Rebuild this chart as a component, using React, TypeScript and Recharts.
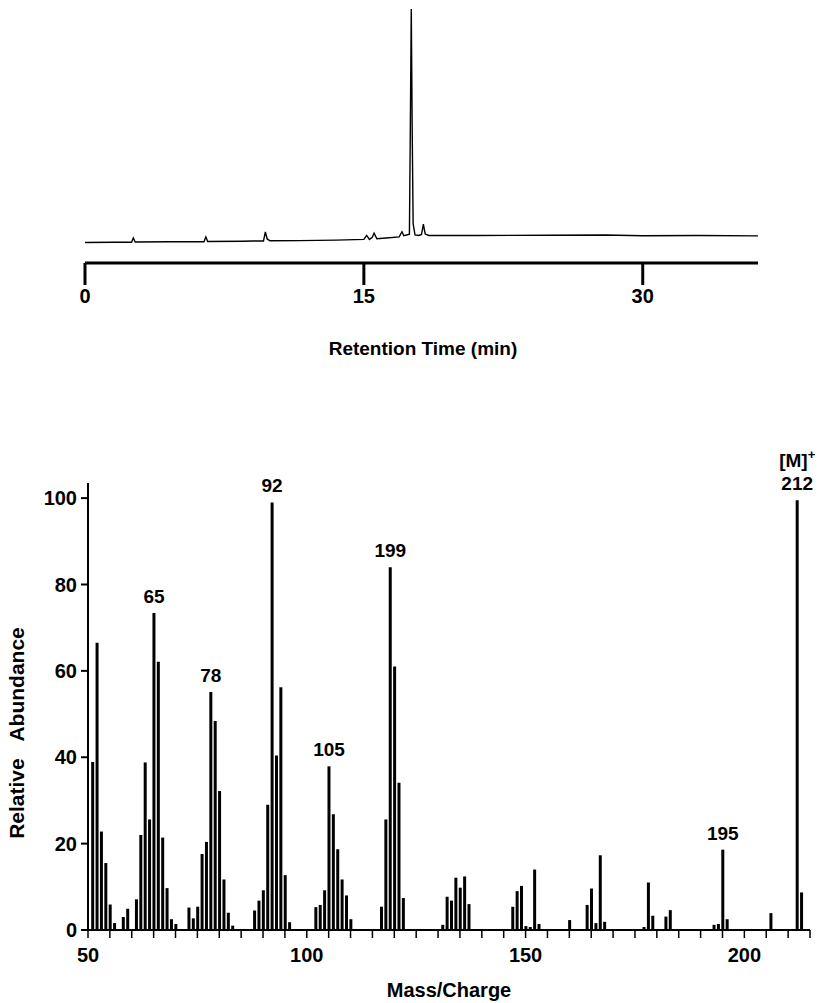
import { LineChart, Line, XAxis, YAxis, BarChart, Bar, LabelList, Label } from 'recharts';

// GC trace (retention time in min, detector response scaled so the main peak = 100)
const retentionTimes = [
  0, 1.5, 2.5, 2.6, 2.7, 4.5, 6.4, 6.5, 6.6, 8.5, 9.0, 9.6, 9.7, 9.8, 9.95, 11.5, 13.5,
  15.0, 15.15, 15.3, 15.45, 15.55, 15.7, 16.2, 16.9, 17.05, 17.15, 17.3, 17.45, 17.5,
  17.55, 17.6, 17.65, 17.75, 17.95, 18.1, 18.2, 18.3, 18.5, 21, 25, 28, 30, 33, 36.2,
];
const detectorSignal = [
  0, 0.1, 0.1, 1.9, 0.2, 0.3, 0.3, 2.4, 0.4, 0.5, 0.6, 0.6, 4.5, 1.5, 0.7, 0.8, 1.0,
  1.3, 3.0, 1.3, 2.2, 4.0, 1.6, 1.9, 2.4, 4.6, 2.9, 3.2, 3.5, 50,
  100, 48, 8, 3.2, 3.0, 3.4, 7.8, 3.6, 3.0, 3.0, 3.1, 3.2, 2.9, 3.0, 2.8,
];
const timeTicks = [0, 15, 30];

// EI mass spectrum
const massCharge = [
  51, 52, 53, 54, 55, 56, 58, 59, 61, 62, 63, 64, 65, 66, 67, 68, 69, 70,
  73, 74, 75, 76, 77, 78, 79, 80, 81, 82, 83,
  88, 89, 90, 91, 92, 93, 94, 95, 96,
  102, 103, 104, 105, 106, 107, 108, 109, 110,
  117, 118, 119, 120, 121, 122,
  131, 132, 133, 134, 135, 136, 137,
  147, 148, 149, 150, 151, 152, 153,
  160, 164, 165, 166, 167, 168,
  177, 178, 179, 182, 183,
  193, 194, 195, 196, 206, 212, 213,
];
const relAbundance = [
  38.9, 66.5, 22.8, 15.5, 5.9, 1.6, 3.0, 4.9, 7.1, 22.0, 38.8, 25.6, 73.4, 62.1, 21.4, 9.7, 2.5, 1.4,
  5.2, 2.7, 5.4, 17.6, 20.4, 55.1, 48.4, 32.2, 11.7, 4.0, 1.0,
  4.5, 6.8, 9.2, 29.0, 99.0, 40.4, 56.2, 12.7, 1.8,
  5.3, 5.8, 9.2, 37.9, 26.8, 18.7, 11.7, 8.0, 2.5,
  5.4, 25.6, 84.0, 61.0, 34.1, 7.4,
  1.2, 7.7, 6.8, 12.1, 9.8, 12.4, 6.0,
  5.4, 9.0, 10.2, 0.9, 0.7, 14.0, 1.4,
  2.3, 5.8, 9.6, 1.6, 17.3, 1.9,
  0.7, 11.0, 3.3, 3.1, 4.6,
  1.2, 1.4, 18.6, 2.5, 3.9, 99.5, 8.7,
];
const labeledMasses = [65, 78, 92, 105, 119, 195, 212];
const labeledTexts = ['65', '78', '92', '105', '199', '195', '212'];
const molecularIon = 212;
const abundanceTicks = [0, 20, 40, 60, 80, 100];
const massTicks = [
  50, 55, 60, 65, 70, 75, 80, 85, 90, 95, 100, 105, 110, 115, 120, 125, 130, 135,
  140, 145, 150, 155, 160, 165, 170, 175, 180, 185, 190, 195, 200, 205, 210, 215,
];
const massTickLabels = [50, 100, 150, 200];

const trace = retentionTimes.map((t, i) => ({ t, s: detectorSignal[i] }));
const spectrum = massCharge.map((mz, i) => {
  const k = labeledMasses.indexOf(mz);
  return { mz, ab: relAbundance[i], tag: k >= 0 ? labeledTexts[k] : '', ion: mz === molecularIon };
});

const FONT = '"Liberation Sans", Arial, Helvetica, sans-serif';
const tickFont = { fontSize: 20, fontWeight: 700, fill: '#000', fontFamily: FONT };

const PeakTag = (props: any) => {
  const { x, y, width, value, index } = props;
  if (!value) return null;
  const cx = Number(x) + Number(width) / 2;
  const isIon = spectrum[index]?.ion;
  return (
    <g fontFamily={FONT} fontWeight={700} fill="#000">
      <text x={cx} y={Number(y) - 10} textAnchor="middle" fontSize={19}>{value}</text>
      {isIon && (
        <text x={cx} y={Number(y) - 33} textAnchor="middle" fontSize={19}>
          [M]<tspan dy={-8} fontSize={13}>+</tspan>
        </text>
      )}
    </g>
  );
};

export default function App() {
  return (
    <div style={{ position: 'absolute', left: 0, top: 0, width: 822, height: 1003, background: '#fff' }}>
      {/* chromatogram */}
      <div style={{ position: 'absolute', left: 0, top: 0 }}>
        <LineChart width={822} height={380} data={trace} margin={{ top: 9, right: 64, left: 85, bottom: 0 }}>
          <YAxis hide type="number" domain={[-8.8, 100]} allowDataOverflow />
          <XAxis
            type="number"
            dataKey="t"
            domain={[0, 36.2]}
            ticks={timeTicks}
            height={117}
            tickSize={22}
            tickMargin={4}
            tick={tickFont}
            axisLine={{ stroke: '#000', strokeWidth: 3 }}
            tickLine={{ stroke: '#000', strokeWidth: 3 }}
          >
            <Label
              content={() => (
                <text x={423} y={355} textAnchor="middle" fontSize={19} fontWeight={700} fontFamily={FONT} fill="#000">
                  Retention Time (min)
                </text>
              )}
            />
          </XAxis>
          <Line type="linear" dataKey="s" stroke="#000" strokeWidth={1.4} dot={false} isAnimationActive={false} />
        </LineChart>
      </div>

      {/* mass spectrum */}
      <div style={{ position: 'absolute', left: 0, top: 440 }}>
        <BarChart width={822} height={563} data={spectrum} margin={{ top: 43, right: 12, left: 0, bottom: 0 }}>
          <YAxis
            type="number"
            domain={[0, 103.5]}
            ticks={abundanceTicks}
            width={88}
            tickSize={7}
            tickMargin={4}
            tick={tickFont}
            axisLine={{ stroke: '#000', strokeWidth: 2 }}
            tickLine={{ stroke: '#000', strokeWidth: 2 }}
          >
            <Label
              content={() => (
                <text
                  transform="translate(24,293) rotate(-90)"
                  textAnchor="middle"
                  fontSize={21}
                  fontWeight={700}
                  fontFamily={FONT}
                  fill="#000"
                  style={{ whiteSpace: 'pre' }}
                >
                  {'Relative   Abundance'}
                </text>
              )}
            />
          </YAxis>
          <XAxis
            type="number"
            dataKey="mz"
            domain={[50, 215]}
            ticks={massTicks}
            tickFormatter={(v: number) => (massTickLabels.includes(v) ? String(v) : '')}
            height={73}
            tickSize={8}
            tickMargin={10}
            tick={tickFont}
            axisLine={{ stroke: '#000', strokeWidth: 2 }}
            tickLine={{ stroke: '#000', strokeWidth: 1.5 }}
          >
            <Label
              content={() => (
                <text x={449} y={557} textAnchor="middle" fontSize={20} fontWeight={700} fontFamily={FONT} fill="#000">
                  Mass/Charge
                </text>
              )}
            />
          </XAxis>
          <Bar dataKey="ab" fill="#000" barSize={3} isAnimationActive={false}>
            <LabelList dataKey="tag" content={PeakTag} />
          </Bar>
        </BarChart>
      </div>
    </div>
  );
}
